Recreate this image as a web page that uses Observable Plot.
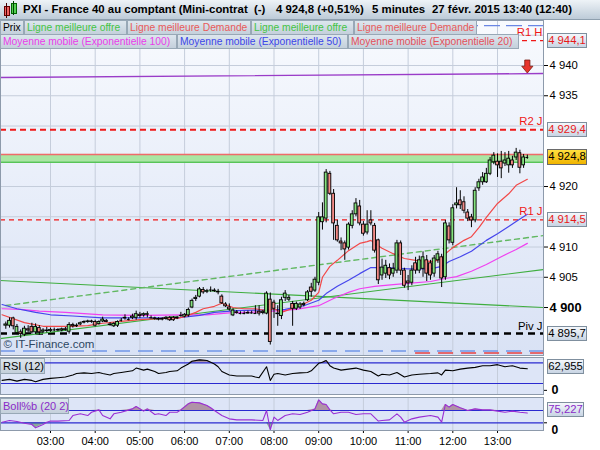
<!DOCTYPE html>
<html><head><meta charset="utf-8">
<script src="https://cdn.jsdelivr.net/npm/d3@7"></script>
<script src="https://cdn.jsdelivr.net/npm/@observablehq/plot@0.6"></script>
<style>
html,body{margin:0;padding:0;background:#fff;}
#wrap{position:relative;width:600px;height:450px;overflow:hidden;font-family:"Liberation Sans",Arial,sans-serif;}
#wrap > div{position:absolute;}
#hdr{left:0;top:0;width:600px;height:19px;background:linear-gradient(#eef3f7,#bdcbd8);border-bottom:1px solid #8e9fae;}
.ht{position:absolute;top:3px;font-weight:bold;font-size:11.4px;white-space:pre;color:#000;}
.leg{height:15px;line-height:13px;font-size:10.3px;white-space:pre;background:linear-gradient(#dde6ee,#c4d0db);border:1px solid #98a8b6;padding:0 0 0 2px;box-sizing:border-box;overflow:hidden;}
.vbox{left:547px;width:40px;height:15px;line-height:13px;font-size:11.3px;text-align:center;border:1px solid #7f8f9e;box-sizing:border-box;background:linear-gradient(#f4f7fb,#c9d5e4);white-space:pre;}
.svgbox svg{display:block;}
</style></head>
<body><div id="wrap">
<div id="bgMain" style="left:0;top:20px;width:543px;height:335px;background:linear-gradient(#f8fafe,#d9e2f5);"></div>
<div id="bgRsi" style="left:0;top:357px;width:543px;height:37px;background:#dde5f7;"></div>
<div id="bgBoll" style="left:0;top:397px;width:543px;height:33px;background:#dde5f7;"></div>
<div id="mainBox" class="svgbox" style="left:0;top:20px;"></div>
<div id="rsiBox" class="svgbox" style="left:0;top:357px;"></div>
<div id="bollBox" class="svgbox" style="left:0;top:397px;"></div>
<div id="hdr">
  <div style="position:absolute;left:4px;top:6px;width:4px;height:8px;background:#f06060;border:1px solid #600;"></div>
  <div style="position:absolute;left:6px;top:3px;width:1px;height:15px;background:#400;"></div>
  <div style="position:absolute;left:11px;top:3px;width:4px;height:9px;background:#50d050;border:1px solid #060;"></div>
  <div style="position:absolute;left:13px;top:1px;width:1px;height:14px;background:#040;"></div>
  <span class="ht" style="left:23px;">PXI - France 40 au comptant (Mini-contrat  (-)</span>
  <span class="ht" style="left:276px;">4 924,8 (+0,51%)</span>
  <span class="ht" style="left:372px;">5 minutes</span>
  <span class="ht" style="left:432px;">27 févr. 2015 13:40 (12:40)</span>
</div>
</div>
<script>
// ---------- DATA ----------
const hours = ["03:00","04:00","05:00","06:00","07:00","08:00","09:00","10:00","11:00","12:00","13:00"];
const yTicks = [4900,4905,4910,4915,4920,4925,4930,4935,4940,4945];
// time, open, high, low, close (5 minutes)
const bars = [
["02:00",4897.0,4897.6,4896.4,4897.2],["02:05",4897.0,4898.3,4896.6,4897.8],["02:10",4898.2,4898.4,4896.3,4896.9],
["02:15",4895.8,4897.2,4895.5,4896.8],["02:20",4895.9,4896.3,4894.9,4895.6],["02:25",4895.5,4896.9,4895.2,4896.5],
["02:30",4896.4,4897.0,4895.8,4896.2],["02:35",4896.8,4897.4,4895.6,4895.9],["02:40",4895.9,4897.3,4895.5,4896.8],
["02:45",4896.6,4897.0,4895.4,4895.9],["02:50",4896.0,4896.5,4895.7,4896.2],["02:55",4896.2,4896.7,4895.8,4896.1],
["03:00",4896.1,4896.6,4895.9,4896.3],["03:05",4896.3,4896.6,4896.0,4896.3],["03:10",4896.3,4896.5,4896.0,4896.2],
["03:15",4896.2,4896.6,4896.0,4896.4],["03:20",4896.4,4896.7,4896.1,4896.3],["03:25",4896.0,4897.5,4895.6,4897.1],
["03:30",4897.1,4897.4,4896.6,4896.9],["03:35",4896.9,4897.3,4896.7,4897.0],["03:40",4897.2,4897.6,4897.0,4897.4],
["03:45",4897.5,4897.8,4897.3,4897.6],["03:50",4897.6,4897.9,4897.4,4897.7],["03:55",4897.7,4897.9,4897.4,4897.6],
["04:00",4897.6,4897.9,4896.8,4897.0],["04:05",4897.3,4897.8,4897.1,4897.6],["04:10",4897.7,4898.4,4897.5,4898.0],
["04:15",4897.8,4898.0,4897.5,4897.6],["04:20",4897.2,4897.5,4896.9,4897.1],["04:25",4896.9,4897.5,4896.7,4897.3],
["04:30",4897.0,4897.8,4896.7,4897.6],["04:35",4897.9,4898.2,4897.6,4897.9],["04:40",4898.2,4898.8,4897.9,4898.3],
["04:45",4898.0,4898.3,4897.8,4898.0],["04:50",4898.3,4898.9,4898.0,4898.5],["04:55",4898.3,4899.4,4897.9,4898.9],
["05:00",4898.8,4899.2,4898.2,4898.6],["05:05",4898.7,4899.1,4898.4,4898.9],["05:10",4898.8,4899.3,4898.3,4898.9],
["05:15",4898.3,4898.6,4898.1,4898.3],["05:20",4898.1,4898.4,4897.9,4898.2],["05:25",4898.0,4898.3,4897.8,4898.1],
["05:30",4898.1,4898.3,4897.8,4898.0],["05:35",4898.1,4898.5,4897.9,4898.3],["05:40",4898.3,4898.5,4897.7,4897.9],
["05:45",4898.3,4898.5,4897.7,4897.9],["05:50",4898.2,4898.5,4898.0,4898.3],["05:55",4898.7,4899.2,4898.4,4898.7],
["06:00",4898.5,4899.0,4898.3,4898.8],["06:05",4898.7,4899.9,4898.4,4899.6],["06:10",4900.0,4901.4,4899.8,4901.1],
["06:15",4901.4,4902.0,4901.0,4901.6],["06:20",4901.8,4903.3,4901.6,4903.0],["06:25",4902.9,4903.3,4902.2,4902.5],
["06:30",4902.6,4903.0,4902.3,4902.7],["06:35",4902.9,4903.4,4902.5,4902.9],["06:40",4902.8,4903.1,4902.5,4902.7],
["06:45",4902.5,4903.0,4902.1,4902.6],["06:50",4901.8,4902.1,4900.5,4900.7],["06:55",4900.5,4900.8,4900.0,4900.2],
["07:00",4900.0,4900.6,4899.4,4899.7],["07:05",4898.7,4899.8,4898.5,4899.5],["07:10",4899.2,4899.5,4898.9,4899.1],
["07:15",4899.0,4899.3,4898.8,4899.0],["07:20",4899.0,4899.3,4898.8,4899.0],["07:25",4899.1,4899.4,4898.9,4899.0],
["07:30",4899.1,4899.4,4898.9,4899.1],["07:35",4899.0,4900.3,4898.9,4899.0],["07:40",4899.3,4900.3,4898.6,4899.0],
["07:45",4899.1,4899.5,4898.8,4899.3],["07:50",4899.0,4902.6,4898.8,4902.3],["07:55",4901.3,4902.4,4893.8,4894.3],
["08:00",4900.8,4901.2,4898.2,4899.8],["08:05",4899.0,4900.3,4896.9,4898.9],["08:10",4898.6,4901.7,4898.0,4901.2],
["08:15",4901.6,4902.8,4901.0,4902.3],["08:20",4901.3,4902.0,4901.0,4901.6],["08:25",4900.6,4901.0,4896.9,4899.8],
["08:30",4899.8,4900.9,4899.5,4900.6],["08:35",4900.0,4900.8,4899.7,4900.5],["08:40",4900.4,4900.9,4900.1,4900.6],
["08:45",4901.2,4902.8,4901.0,4902.5],["08:50",4903.3,4904.0,4901.7,4902.6],["08:55",4902.8,4905.0,4902.5,4904.6],
["09:00",4904.1,4915.7,4903.6,4914.9],["09:05",4914.1,4917.3,4912.8,4914.9],["09:10",4914.7,4922.8,4914.0,4922.3],
["09:15",4922.1,4922.5,4918.5,4918.8],["09:20",4918.8,4919.5,4911.1,4913.9],["09:25",4913.5,4914.4,4910.8,4911.1],
["09:30",4910.9,4911.5,4909.4,4910.6],["09:35",4910.6,4911.0,4907.8,4909.6],["09:40",4909.9,4914.0,4909.5,4913.7],
["09:45",4913.5,4916.0,4913.0,4915.4],["09:50",4915.4,4918.0,4915.0,4917.2],["09:55",4916.7,4917.7,4913.5,4913.9],
["10:00",4913.7,4914.2,4911.8,4912.2],["10:05",4912.4,4916.0,4912.0,4913.7],["10:10",4914.4,4916.0,4913.5,4913.9],
["10:15",4913.5,4913.9,4909.0,4909.4],["10:20",4911.1,4911.3,4903.8,4904.5],["10:25",4905.3,4908.0,4904.5,4906.6],
["10:30",4905.6,4907.8,4904.8,4906.9],["10:35",4906.5,4907.2,4904.6,4905.3],["10:40",4905.6,4907.3,4905.0,4906.4],
["10:45",4906.1,4911.1,4905.6,4910.6],["10:50",4910.6,4911.0,4905.3,4906.1],["10:55",4906.1,4906.5,4903.2,4903.6],
["11:00",4904.3,4905.3,4902.8,4904.0],["11:05",4904.1,4906.9,4903.6,4906.1],["11:10",4907.3,4908.3,4905.5,4906.1],
["11:15",4906.1,4908.5,4905.6,4907.8],["11:20",4906.4,4909.2,4905.0,4908.3],["11:25",4907.8,4908.6,4904.3,4905.6],
["11:30",4907.3,4907.8,4904.5,4905.3],["11:35",4905.6,4908.6,4905.0,4908.1],["11:40",4907.8,4909.3,4907.3,4908.8],
["11:45",4908.3,4908.8,4903.3,4904.8],["11:50",4905.0,4914.4,4904.5,4913.9],["11:55",4913.4,4914.0,4910.5,4911.1],
["12:00",4910.7,4917.0,4910.2,4916.4],["12:05",4916.9,4919.8,4916.3,4917.2],["12:10",4917.7,4919.3,4916.2,4916.9],
["12:15",4917.4,4918.3,4915.5,4916.0],["12:20",4915.7,4916.2,4914.2,4914.7],["12:25",4914.9,4915.4,4913.2,4914.4],
["12:30",4914.4,4919.8,4914.0,4919.3],["12:35",4919.7,4921.2,4919.2,4920.7],["12:40",4920.7,4922.3,4920.2,4921.5],
["12:45",4920.7,4923.0,4920.5,4922.1],["12:50",4922.1,4924.8,4921.8,4924.3],["12:55",4924.0,4925.6,4923.6,4925.1],
["13:00",4924.1,4925.4,4921.5,4923.5],["13:05",4924.1,4925.8,4921.3,4923.0],["13:10",4923.8,4925.6,4923.3,4924.3],
["13:15",4923.5,4925.8,4922.2,4924.6],["13:20",4924.3,4925.0,4923.0,4923.5],["13:25",4924.8,4926.3,4924.3,4925.6],
["13:30",4925.5,4926.0,4922.1,4923.1],["13:35",4923.5,4925.3,4923.0,4924.8],["13:40",4924.8,4925.2,4924.5,4924.8]
];
const ema20 = [["01:55",4898.8],["02:25",4897.5],["02:50",4896.9],["03:25",4896.9],["03:50",4897.0],["04:10",4897.4],["04:35",4897.7],["05:00",4898.0],["05:30",4898.2],["05:50",4898.2],["06:00",4898.5],["06:15",4899.2],["06:25",4899.8],["06:40",4900.2],["06:50",4900.7],["07:05",4900.0],["07:20",4899.8],["07:35",4899.8],["07:50",4899.5],["08:00",4899.8],["08:10",4899.2],["08:35",4900.3],["08:50",4901.2],["09:00",4902.5],["09:05",4905.0],["09:15",4906.8],["09:25",4907.8],["09:40",4909.4],["09:55",4910.6],["10:05",4910.9],["10:10",4911.1],["10:15",4910.6],["10:25",4909.8],["10:40",4908.9],["10:55",4908.1],["11:10",4907.8],["11:35",4907.6],["11:45",4908.1],["11:50",4908.9],["12:00",4909.9],["12:15",4911.1],["12:25",4911.7],["12:35",4913.2],["12:45",4914.9],["13:00",4917.2],["13:15",4918.8],["13:25",4920.2],["13:40",4921.2]];
const ema50 = [["01:55",4900.5],["02:15",4899.8],["02:40",4899.2],["03:00",4898.8],["03:30",4898.6],["04:10",4898.3],["05:00",4898.3],["05:50",4898.3],["06:20",4898.7],["06:40",4899.2],["07:10",4899.5],["07:50",4899.6],["08:15",4899.7],["08:40",4900.3],["09:00",4901.2],["09:10",4902.3],["09:25",4903.5],["09:40",4904.5],["09:55",4905.6],["10:10",4906.6],["10:30",4906.6],["11:00",4906.4],["11:30",4906.4],["11:45",4906.8],["11:55",4907.6],["12:10",4908.4],["12:25",4909.3],["12:45",4911.1],["13:00",4912.2],["13:15",4913.4],["13:25",4914.2],["13:40",4915.4]];
const ema100 = [["01:55",4899.8],["02:20",4899.7],["02:45",4899.4],["03:20",4899.2],["04:10",4898.8],["05:00",4898.7],["06:00",4898.8],["06:30",4898.8],["07:00",4899.1],["07:50",4899.3],["08:30",4899.7],["09:00",4900.3],["09:20",4901.5],["09:40",4902.5],["09:55",4903.1],["10:15",4903.5],["10:40",4903.8],["11:00",4904.0],["11:30",4904.3],["11:50",4904.8],["12:05",4905.1],["12:25",4906.0],["12:45",4907.1],["13:05",4908.4],["13:25",4909.6],["13:40",4910.6]];
const trendDown = [["01:50",4904.48],["14:05",4899.98]];
const trendUp = [["01:50",4894.83],["14:05",4906.33]];
const trendDashed = [["02:00",4900.33],["14:05",4911.94]];
const purpleLine = [["01:50",4938.02],["14:05",4938.68]];
const levelNames = ["R1 H","R2 J","R1 J","Piv J"];
const levelValues = [4944.1,4929.4,4914.5,4895.7];
const topBlue = 4946.6, bottomBlue = 4892.8, bottomRed = 4892.5, bottomRedFrom = "11:10";
const ask = 4925.3, bid = 4924.0, lastPrice = 4924.8;
const arrowAt = ["13:40", 4939.75];
const rsi = [["01:55",29],["02:05",32],["02:15",27],["02:25",32],["02:35",29],["02:40",25],["02:50",32],["03:00",35],["03:10",37],["03:20",39],["03:30",45],["03:35",49],["03:45",51],["03:55",49],["04:05",52],["04:10",49],["04:20",45],["04:25",49],["04:35",52],["04:50",57],["04:55",65],["05:05",59],["05:10",62],["05:20",55],["05:25",49],["05:35",52],["05:40",55],["05:50",57],["05:55",65],["06:05",77],["06:10",85],["06:20",89],["06:30",87],["06:35",82],["06:40",77],["06:45",69],["06:50",55],["07:00",45],["07:10",42],["07:30",42],["07:35",39],["07:40",37],["07:50",69],["07:55",29],["08:00",47],["08:05",49],["08:15",45],["08:25",49],["08:35",51],["08:45",52],["08:50",57],["09:00",79],["09:05",82],["09:10",87],["09:15",72],["09:20",65],["09:30",59],["09:40",62],["09:50",65],["10:00",59],["10:10",55],["10:20",42],["10:25",47],["10:35",45],["10:45",52],["10:55",39],["11:05",45],["11:15",47],["11:30",49],["11:40",51],["11:45",45],["11:50",59],["12:00",57],["12:10",62],["12:20",65],["12:30",67],["12:40",72],["12:50",72],["13:00",75],["13:10",69],["13:20",72],["13:30",65],["13:40",63]];
const boll = [["01:55",5],["02:05",19],["02:15",11],["02:25",-3],["02:35",-14],["02:40",-41],["02:50",-14],["02:55",5],["03:00",14],["03:10",14],["03:25",19],["03:30",59],["03:40",73],["03:50",59],["03:55",86],["04:05",105],["04:10",59],["04:20",32],["04:25",73],["04:35",86],["04:50",113],["04:55",132],["05:05",95],["05:10",113],["05:20",68],["05:25",73],["05:35",59],["05:40",86],["05:50",86],["05:55",105],["06:05",154],["06:10",167],["06:20",162],["06:30",140],["06:35",122],["06:40",100],["06:50",59],["07:00",32],["07:10",24],["07:30",24],["07:45",19],["07:50",100],["07:55",-57],["08:00",46],["08:05",19],["08:15",59],["08:25",73],["08:35",68],["08:45",86],["08:55",113],["09:00",186],["09:05",154],["09:10",149],["09:15",105],["09:20",73],["09:30",86],["09:40",86],["09:50",68],["10:00",73],["10:10",73],["10:20",14],["10:25",19],["10:35",24],["10:45",73],["10:50",46],["10:55",5],["11:05",32],["11:15",46],["11:30",59],["11:40",46],["11:45",5],["11:50",149],["11:55",127],["12:00",149],["12:10",122],["12:20",100],["12:30",113],["12:40",105],["12:50",105],["13:00",95],["13:10",86],["13:20",95],["13:30",86],["13:40",80]];
const rsiLast = 62.955, bollLast = 75.227;
const rsiBands = [20,80], bollBands = [0,100];

// ---------- HELPERS ----------
const T = s => { const p = s.split(":").map(Number); return new Date(Date.UTC(2015,1,27,p[0],p[1],p[2]||0)); };
const xDomain = [T("01:52:54"), T("14:01:42")];
const loc = d3.formatLocale({decimal:",", thousands:"\u00a0", grouping:[3], currency:["","€"]});
const fmtTick = v => loc.format(",")(v).replace("\u00a0"," ");
const fmt1 = v => loc.format(",.1f")(v).replace("\u00a0"," ");
const font = "'Liberation Sans', Arial, sans-serif";
const candles = bars.map(([t,o,h,l,c]) => ({t:T(t),o,h,l,c}));
const HW = 114000;
const pts = arr => arr.map(([t,v]) => ({t:T(t), v}));
const grid = "#c5cddb";
// axis tick labels hidden behind the value boxes in the reference are not drawn
const boxValues = levelValues.concat([lastPrice]);
const labelTicks = yTicks.filter(t => !boxValues.some(b => Math.abs(b - t) < 1.5));

const arrowSymbol = { draw(ctx, size) { const s = Math.sqrt(size)/10;
  ctx.moveTo(-2.6*s,-7*s); ctx.lineTo(2.6*s,-7*s); ctx.lineTo(2.6*s,-0.8*s); ctx.lineTo(5.6*s,-0.8*s);
  ctx.lineTo(0,6*s); ctx.lineTo(-5.6*s,-0.8*s); ctx.lineTo(-2.6*s,-0.8*s); ctx.closePath(); } };

const redLevels = levelNames.map((n,i)=>({n, v:levelValues[i]})).filter(d => d.n !== "Piv J");
const pivLevel = levelNames.map((n,i)=>({n, v:levelValues[i]})).filter(d => d.n === "Piv J");

const main = Plot.plot({
  width:600, height:335, marginTop:0, marginBottom:0, marginLeft:0, marginRight:57,
  style:{background:"transparent", fontFamily:font, fontSize:"11.3px", color:"#000", overflow:"visible"},
  x:{type:"utc", domain:xDomain, axis:null},
  y:{domain:[4892.07,4947.44], axis:"right", ticks:labelTicks, tickFormat:fmtTick, tickSize:4, tickPadding:2, label:null},
  marks:[
    Plot.ruleX(hours.map(T), {stroke:grid}),
    Plot.ruleY(yTicks, {stroke:grid}),
    Plot.ruleY([topBlue], {stroke:"#6a86e4", strokeWidth:1.2, strokeDasharray:"16,6"}),
    Plot.ruleY([bottomBlue], {stroke:"#7096e8", strokeWidth:1.5, strokeDasharray:"15,8"}),
    Plot.ruleY([bottomRed], {x1:()=>T(bottomRedFrom), x2:()=>xDomain[1], stroke:"#e84040", strokeWidth:1.5, strokeDasharray:"15,8"}),
    Plot.rect([{a:ask,b:bid}], {x1:()=>xDomain[0], x2:()=>xDomain[1], y1:"b", y2:"a", fill:"#a9e6a3"}),
    Plot.ruleY([ask], {stroke:"#f06a6a", strokeWidth:1.4}),
    Plot.ruleY([bid], {stroke:"#58c458", strokeWidth:1.4}),
    Plot.line(pts(purpleLine), {x:"t", y:"v", stroke:"#9a3cc8", strokeWidth:1.3, clip:true}),
    Plot.ruleY(redLevels.filter(d=>d.n==="R2 J"), {y:"v", stroke:"#f01818", strokeWidth:2, strokeDasharray:"6,4"}),
    Plot.ruleY(redLevels.filter(d=>d.n!=="R2 J"), {y:"v", stroke:"#f01818", strokeWidth:1.3, strokeDasharray:"5,4"}),
    Plot.ruleY(pivLevel, {y:"v", stroke:"#000", strokeWidth:2.6, strokeDasharray:"7,5"}),
    Plot.line(pts(trendDown), {x:"t", y:"v", stroke:"#3fae3f", strokeWidth:1.1, clip:true}),
    Plot.line(pts(trendUp), {x:"t", y:"v", stroke:"#3fae3f", strokeWidth:1.1, clip:true}),
    Plot.line(pts(trendDashed), {x:"t", y:"v", stroke:"#62b862", strokeWidth:1.4, strokeDasharray:"5,4", clip:true}),
    Plot.line(pts(ema100), {x:"t", y:"v", stroke:"#f040f0", strokeWidth:1.2}),
    Plot.line(pts(ema50), {x:"t", y:"v", stroke:"#4646ec", strokeWidth:1.2}),
    Plot.line(pts(ema20), {x:"t", y:"v", stroke:"#f24848", strokeWidth:1.2}),
    Plot.ruleX(candles, {x:"t", y1:"l", y2:"h", stroke:"#000", strokeWidth:1}),
    Plot.rect(candles.filter(d=>d.c>d.o), {x1:d=>new Date(+d.t-HW), x2:d=>new Date(+d.t+HW), y1:"o", y2:"c", fill:"#84e27e", stroke:"#000", strokeWidth:0.9}),
    Plot.rect(candles.filter(d=>d.c<d.o), {x1:d=>new Date(+d.t-HW), x2:d=>new Date(+d.t+HW), y1:"o", y2:"c", fill:"#f48a86", stroke:"#000", strokeWidth:0.9}),
    Plot.ruleY(candles.filter(d=>d.c===d.o), {y:"o", x1:d=>new Date(+d.t-HW), x2:d=>new Date(+d.t+HW), stroke:"#000", strokeWidth:1}),
    Plot.dot([arrowAt], {x:d=>T(d[0]), y:d=>d[1], symbol:arrowSymbol, r:10/Math.sqrt(Math.PI), fill:"#e8342c", stroke:"#7a1a10", strokeWidth:0.8}),
    Plot.text(redLevels, {y:"v", text:"n", frameAnchor:"right", textAnchor:"end", dx:-1, dy:-8, fill:"#f01818", fontSize:11.3}),
    Plot.text(pivLevel, {y:"v", text:"n", frameAnchor:"right", textAnchor:"end", dx:-1, dy:-7, fill:"#000", fontSize:11.3}),
    Plot.text(["© IT-Finance.com"], {frameAnchor:"bottom-left", textAnchor:"start", dx:3, dy:-8, fill:"#2e4763", fontSize:11.5}),
    Plot.frame({stroke:"#8d9aab"})
  ]
});
document.getElementById("mainBox").appendChild(main);
d3.select(main).selectAll("text").each(function(){ if (this.textContent === "4 900") { this.style.fontWeight="bold"; this.style.fontSize="12.8px"; } });

const rsiChart = Plot.plot({
  width:600, height:37, marginTop:0, marginBottom:0, marginLeft:0, marginRight:57,
  style:{background:"transparent", fontFamily:font, fontSize:"12.5px", color:"#000", overflow:"visible"},
  x:{type:"utc", domain:xDomain, axis:null},
  y:{domain:[-12.1,95.9], axis:"right", ticks:[0], tickFormat:d=>String(d), tickSize:3, tickPadding:5, label:null},
  marks:[
    Plot.ruleX(hours.map(T), {stroke:grid}),
    Plot.areaY(pts(rsi), {x:"t", y1:rsiBands[1], y2:d=>Math.max(d.v,rsiBands[1]), fill:"#a48a98", fillOpacity:0.9}),
    Plot.ruleY(rsiBands, {stroke:"#2a2ad0", strokeWidth:1.2}),
    Plot.line(pts(rsi), {x:"t", y:"v", stroke:"#000", strokeWidth:1.1}),
    Plot.frame({stroke:"#8d9aab"})
  ]
});
document.getElementById("rsiBox").appendChild(rsiChart);
d3.select(rsiChart).selectAll("text").filter(function(){return this.textContent==="0";}).style("font-weight","bold");

const bollChart = Plot.plot({
  width:600, height:53, marginTop:0, marginBottom:20, marginLeft:0, marginRight:57,
  style:{background:"transparent", fontFamily:font, fontSize:"11px", color:"#000", overflow:"visible"},
  x:{type:"utc", domain:xDomain, ticks:hours.map(T), tickFormat:d3.utcFormat("%H:%M"), tickSize:3, tickPadding:4, label:null},
  y:{domain:[-62.6,205.7], axis:"right", ticks:[bollBands[0]], tickFormat:d=>String(d), tickSize:3, tickPadding:5, label:null},
  marks:[
    Plot.ruleX(hours.map(T), {stroke:grid}),
    Plot.areaY(pts(boll), {x:"t", y1:bollBands[1], y2:d=>Math.max(d.v,bollBands[1]), fill:"#ab8a9c", fillOpacity:0.9}),
    Plot.areaY(pts(boll), {x:"t", y1:bollBands[0], y2:d=>Math.min(d.v,bollBands[0]), fill:"#7fa48c", fillOpacity:0.9}),
    Plot.ruleY(bollBands, {stroke:"#2a2ad0", strokeWidth:1.2}),
    Plot.line(pts(boll), {x:"t", y:"v", stroke:"#9a2ed4", strokeWidth:1.1}),
    Plot.frame({stroke:"#8d9aab"})
  ]
});
document.getElementById("bollBox").appendChild(bollChart);
d3.select(bollChart).selectAll("text").filter(function(){return this.textContent==="0";})
  .style("font-weight","bold").style("font-size","12px").attr("dy","0.6em");

// ---------- OVERLAYS ----------
const wrap = document.getElementById("wrap");
function div(cls, style, text) { const d = document.createElement("div"); d.className = cls; Object.assign(d.style, style); d.textContent = text; wrap.appendChild(d); return d; }
const legend1 = [["Prix","#000",0,24],["Ligne meilleure offre","#44c444",24,103],["Ligne meilleure Demande","#e85a5a",127,124],["Ligne meilleure offre","#44c444",251,103],["Ligne meilleure Demande","#e85a5a",354,123]];
const legend2 = [["Moyenne mobile (Exponentielle 100)","#ea3cea",0,177],["Moyenne mobile (Exponentielle 50)","#3c46e8",177,171],["Moyenne mobile (Exponentielle 20)","#e4505a",348,171]];
legend1.forEach(([t,c,l,w]) => div("leg", {left:l+"px", top:"20px", width:w+"px", color:c}, t));
legend2.forEach(([t,c,l,w]) => div("leg", {left:l+"px", top:"34px", width:w+"px", color:c}, t));
div("leg", {left:"0px", top:"358px", width:"45px", height:"16px", fontSize:"11px", lineHeight:"14px", color:"#000"}, "RSI (12)");
div("leg", {left:"0px", top:"398px", width:"69px", height:"16px", fontSize:"11px", lineHeight:"14px", color:"#8a2ac8"}, "Boll%b (20 2)");

const ym = main.scale("y");
const boxes = [[4944.1,"#e81818"],[4929.4,"#e81818"],[4914.5,"#e81818"],[4895.7,"#000"]];
boxes.forEach(([v,c]) => div("vbox", {top:(20+ym.apply(v)-7.5)+"px", color:c}, fmt1(v)));
div("vbox", {top:(20+ym.apply(lastPrice)-8)+"px", height:"16px", color:"#000", background:"linear-gradient(#ffe040,#f0b400)", border:"1px solid #6a6a6a"}, fmt1(lastPrice));
const yr = rsiChart.scale("y"), yb = bollChart.scale("y");
div("vbox", {top:(357+yr.apply(rsiLast)-2-7.5)+"px", width:"37px", color:"#000"}, loc.format(".3f")(rsiLast));
div("vbox", {top:(397+yb.apply(bollLast)-11)+"px", width:"37px", color:"#8a2ac8"}, loc.format(".3f")(bollLast));
</script>
</body></html>
